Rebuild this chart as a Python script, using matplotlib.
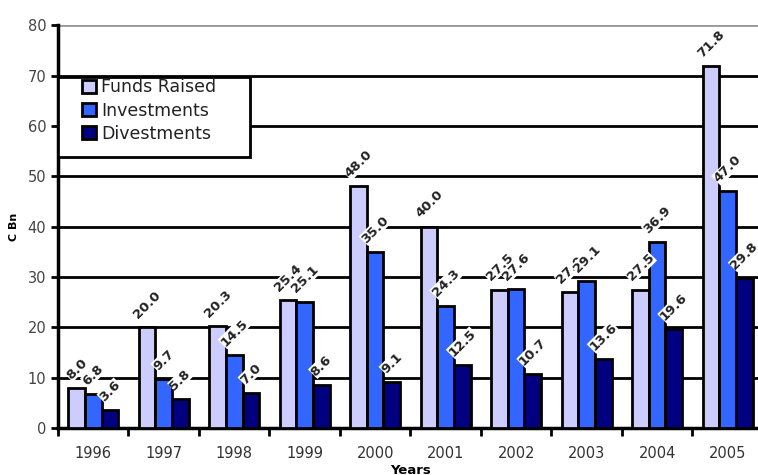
import numpy as np
import matplotlib
matplotlib.use('Agg')
import matplotlib.pyplot as plt
from matplotlib.patches import Rectangle

years = ['1996', '1997', '1998', '1999', '2000', '2001', '2002', '2003', '2004', '2005']
funds = [8.0, 20.0, 20.3, 25.4, 48.0, 40.0, 27.5, 27.0, 27.5, 71.8]
investments = [6.8, 9.7, 14.5, 25.1, 35.0, 24.3, 27.6, 29.1, 36.9, 47.0]
divestments = [3.6, 5.8, 7.0, 8.6, 9.1, 12.5, 10.7, 13.6, 19.6, 29.8]

series = [('Funds Raised', funds, '#ccccff'),
          ('Investments', investments, '#3366ff'),
          ('Divestments', divestments, '#000080')]

fig = plt.figure(figsize=(7.58, 4.75), dpi=100)
ax = fig.add_axes([0.0765, 0.099, 0.93, 0.848])

x = np.arange(len(years))
w = 0.235

for i, (name, vals, col) in enumerate(series):
    pos = x + (i - 1) * w
    ax.bar(pos, vals, w, color=col, edgecolor='black', linewidth=2, label=name, zorder=3)
    for px, v in zip(pos, vals):
        ax.text(px, v + 1.2, '%.1f' % v, rotation=45, ha='center', va='bottom',
                fontsize=9.5, fontweight='bold', color='#222222', zorder=4,
                bbox=dict(facecolor='white', edgecolor='none', pad=0.2))

ax.set_xlim(-0.5, 9.5)
ax.set_ylim(0, 80)
ax.set_yticks(range(0, 90, 10))
for yv in range(10, 80, 10):
    ax.axhline(yv, color='black', linewidth=2, zorder=1)
ax.axhline(80, color='#999999', linewidth=2, zorder=1)

ax.set_xticks(np.arange(-0.5, 10, 1))
ax.set_xticklabels([])
ax.set_xticks(x, minor=True)
ax.set_xticklabels(years, minor=True)
ax.tick_params(axis='x', which='major', direction='out', length=6, width=2)
ax.tick_params(axis='x', which='minor', length=0, pad=13, labelsize=10.5, labelcolor='#333333')
ax.tick_params(axis='y', direction='out', length=5, width=2, labelsize=10.5, labelcolor='#444444')

for s in ['top', 'right']:
    ax.spines[s].set_visible(False)
ax.spines['left'].set_linewidth(2.5)
ax.spines['bottom'].set_linewidth(2.5)

ax.set_ylabel('C Bn', fontsize=8, fontweight='bold', labelpad=6)
ax.set_xlabel('Years', fontsize=9.5, fontweight='bold', labelpad=2)

# legend frame drawn by hand so it can be wider than its contents
ax.add_patch(Rectangle((0, 53.8 / 80), 0.272, 16 / 80, transform=ax.transAxes,
                       facecolor='white', edgecolor='black', linewidth=2,
                       zorder=5, clip_on=False))
leg = ax.legend(loc='upper left', bbox_to_anchor=(0.034, 0.868), borderaxespad=0,
                borderpad=0, frameon=False, fontsize=12.5, handlelength=0.8,
                handleheight=0.8, handletextpad=0.3, labelspacing=0.3)
for t in leg.get_texts():
    t.set_color('#222222')
leg.set_zorder(6)

fig.savefig('out.png', dpi=100)
